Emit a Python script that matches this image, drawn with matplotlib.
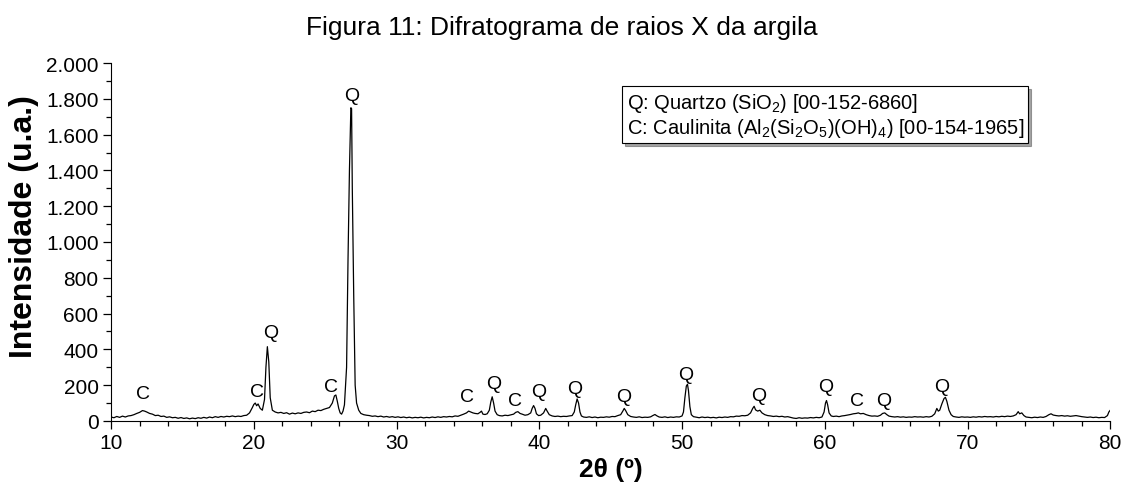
import matplotlib
matplotlib.use("Agg")
import matplotlib.pyplot as plt
from matplotlib.ticker import MultipleLocator, FuncFormatter
from matplotlib.lines import Line2D

plt.rcParams["font.family"] = ["Liberation Sans", "DejaVu Sans"]
plt.rcParams["mathtext.default"] = "regular"

# 2theta (deg) and intensity (u.a.)
two_theta = [
    10.0, 10.2, 10.4, 10.6, 10.8, 11.0, 11.2, 11.4, 11.6, 11.8, 12.0, 12.2, 12.35, 12.5, 12.7, 12.9,
    13.1, 13.3, 13.5, 13.7, 13.9, 14.1, 14.3, 14.5, 14.7, 14.9, 15.1, 15.3, 15.5, 15.7, 15.9, 16.1,
    16.3, 16.5, 16.7, 16.9, 17.1, 17.3, 17.5, 17.7, 17.9, 18.1, 18.3, 18.5, 18.7, 18.9, 19.1, 19.3,
    19.5, 19.7, 19.9, 20.0, 20.1, 20.2, 20.3, 20.45, 20.6, 20.75, 20.85, 20.95, 21.05, 21.15, 21.3, 21.5,
    21.7, 21.9, 22.1, 22.3, 22.5, 22.7, 22.9, 23.1, 23.3, 23.5, 23.7, 23.9, 24.1, 24.3, 24.5, 24.7,
    24.9, 25.1, 25.3, 25.5, 25.65, 25.75, 25.85, 25.95, 26.05, 26.15, 26.25, 26.35, 26.5, 26.6, 26.7, 26.8,
    26.85, 26.9, 27.0, 27.1, 27.2, 27.35, 27.5, 27.7, 27.9, 28.1, 28.3, 28.5, 28.7, 28.9, 29.1, 29.3,
    29.5, 29.7, 29.9, 30.1, 30.3, 30.5, 30.7, 30.9, 31.1, 31.3, 31.5, 31.7, 31.9, 32.1, 32.3, 32.5,
    32.7, 32.9, 33.1, 33.3, 33.5, 33.7, 33.9, 34.1, 34.3, 34.5, 34.7, 34.9, 35.05, 35.2, 35.35, 35.5,
    35.7, 35.85, 35.95, 36.05, 36.2, 36.35, 36.5, 36.6, 36.7, 36.8, 36.9, 37.05, 37.2, 37.4, 37.6, 37.8,
    38.0, 38.2, 38.35, 38.5, 38.65, 38.8, 39.0, 39.2, 39.4, 39.5, 39.6, 39.7, 39.8, 39.95, 40.1, 40.3,
    40.45, 40.55, 40.7, 40.9, 41.1, 41.3, 41.5, 41.7, 41.9, 42.1, 42.3, 42.45, 42.55, 42.65, 42.75, 42.85,
    42.95, 43.1, 43.3, 43.5, 43.7, 43.9, 44.1, 44.3, 44.5, 44.7, 44.9, 45.1, 45.3, 45.5, 45.7, 45.85,
    45.95, 46.05, 46.2, 46.4, 46.6, 46.8, 47.0, 47.2, 47.4, 47.6, 47.8, 47.95, 48.1, 48.25, 48.4, 48.6,
    48.8, 49.0, 49.2, 49.4, 49.6, 49.8, 50.0, 50.1, 50.2, 50.3, 50.38, 50.45, 50.55, 50.65, 50.8, 51.0,
    51.2, 51.4, 51.6, 51.8, 52.0, 52.2, 52.4, 52.6, 52.8, 53.0, 53.2, 53.4, 53.6, 53.8, 54.0, 54.2,
    54.4, 54.6, 54.8, 54.95, 55.05, 55.15, 55.3, 55.45, 55.6, 55.8, 56.0, 56.2, 56.4, 56.6, 56.8, 57.0,
    57.2, 57.4, 57.6, 57.8, 58.0, 58.2, 58.4, 58.6, 58.8, 59.0, 59.2, 59.4, 59.6, 59.8, 59.95, 60.05,
    60.12, 60.2, 60.3, 60.45, 60.6, 60.8, 61.0, 61.2, 61.4, 61.6, 61.8, 62.0, 62.2, 62.35, 62.5, 62.7,
    62.9, 63.1, 63.3, 63.5, 63.7, 63.9, 64.05, 64.2, 64.35, 64.5, 64.7, 64.9, 65.1, 65.3, 65.5, 65.7,
    65.9, 66.1, 66.3, 66.5, 66.7, 66.9, 67.1, 67.3, 67.5, 67.7, 67.85, 67.95, 68.05, 68.2, 68.35, 68.45,
    68.55, 68.7, 68.85, 69.0, 69.2, 69.4, 69.6, 69.8, 70.0, 70.2, 70.4, 70.6, 70.8, 71.0, 71.2, 71.4,
    71.6, 71.8, 72.0, 72.2, 72.4, 72.6, 72.8, 73.0, 73.2, 73.4, 73.55, 73.65, 73.8, 73.95, 74.1, 74.3,
    74.5, 74.7, 74.9, 75.1, 75.3, 75.5, 75.7, 75.85, 76.0, 76.2, 76.4, 76.6, 76.8, 77.0, 77.2, 77.4,
    77.6, 77.8, 78.0, 78.2, 78.4, 78.6, 78.8, 79.0, 79.2, 79.4, 79.6, 79.8, 79.9, 80.0,
]
intensity = [
    22, 18, 25, 20, 27, 22, 28, 30, 35, 42, 48, 58, 55, 50, 42, 38,
    30, 32, 25, 27, 20, 23, 18, 20, 15, 19, 14, 17, 12, 16, 13, 18,
    15, 20, 16, 22, 18, 24, 20, 25, 22, 26, 24, 28, 24, 27, 25, 30,
    32, 45, 75, 92, 100, 85, 95, 70, 60, 120, 300, 415, 330, 130, 60, 50,
    45, 48, 42, 46, 38, 44, 40, 45, 42, 48, 50, 46, 55, 52, 60, 58,
    65, 70, 75, 100, 140, 145, 110, 70, 45, 38, 55, 90, 300, 900, 1400, 1750,
    1745, 1300, 700, 200, 100, 60, 42, 35, 32, 30, 26, 28, 24, 27, 22, 25,
    21, 24, 20, 23, 19, 22, 18, 21, 17, 20, 18, 21, 17, 20, 18, 22,
    19, 23, 20, 24, 22, 25, 23, 28, 26, 32, 38, 45, 55, 50, 45, 42,
    40, 48, 55, 38, 36, 40, 60, 105, 135, 100, 55, 35, 30, 28, 32, 30,
    34, 38, 48, 52, 42, 38, 32, 35, 45, 70, 86, 70, 40, 30, 32, 45,
    70, 55, 35, 28, 25, 27, 24, 26, 25, 28, 30, 50, 90, 123, 100, 50,
    28, 22, 20, 23, 19, 22, 18, 21, 20, 23, 21, 25, 24, 30, 35, 55,
    70, 58, 35, 25, 22, 20, 23, 19, 21, 20, 23, 30, 36, 28, 22, 20,
    23, 19, 22, 20, 23, 22, 28, 50, 130, 195, 205, 170, 80, 35, 24, 21,
    18, 22, 19, 21, 18, 20, 17, 21, 19, 22, 20, 24, 23, 27, 26, 30,
    29, 32, 45, 70, 82, 62, 55, 60, 45, 35, 30, 28, 25, 27, 24, 26,
    22, 24, 20, 16, 14, 18, 15, 17, 16, 19, 17, 20, 18, 22, 50, 100,
    114, 90, 45, 28, 25, 27, 24, 28, 30, 33, 36, 40, 42, 45, 40, 42,
    35, 30, 27, 28, 26, 32, 42, 45, 35, 27, 24, 22, 24, 21, 23, 20,
    22, 21, 24, 22, 23, 21, 24, 22, 26, 40, 70, 55, 60, 95, 125, 132,
    110, 60, 35, 25, 22, 20, 23, 21, 22, 20, 23, 21, 24, 22, 25, 23,
    24, 22, 25, 23, 26, 24, 27, 25, 28, 35, 52, 40, 45, 30, 22, 20,
    18, 21, 19, 22, 20, 25, 35, 40, 33, 30, 28, 30, 27, 29, 26, 28,
    30, 27, 24, 22, 20, 22, 19, 21, 18, 20, 19, 30, 50, 60,
]

# phase labels above the peaks: letter, 2theta, height
peak_letters = ["C", "C", "Q", "C", "Q", "C", "Q", "C", "Q", "Q", "Q", "Q", "Q", "Q", "C", "Q", "Q"]
peak_theta = [12.24, 20.23, 21.21, 25.42, 26.89, 34.95, 36.77, 38.31, 39.99, 42.45, 45.88, 50.29,
              55.34, 60.04, 62.28, 64.1, 68.16]
peak_height = [151, 162, 497, 190, 1821, 134, 212, 117, 162, 184, 134, 257, 145, 190, 117, 117, 190]

legend_lines = [
    "Q: Quartzo (SiO$_2$) [00-152-6860]",
    "C: Caulinita (Al$_2$(Si$_2$O$_5$)(OH)$_4$) [00-154-1965]",
]

fig = plt.figure(figsize=(11.24, 4.85), dpi=100)
ax = fig.add_axes([0.0988, 0.130, 0.889, 0.738])

ax.plot(two_theta, intensity, color="black", linewidth=0.9)

for letter, t, h in zip(peak_letters, peak_theta, peak_height):
    ax.text(t, h, letter, ha="center", va="center", fontsize=14)

ax.set_xlim(10, 80)
ax.set_ylim(0, 2000)
ax.xaxis.set_major_locator(MultipleLocator(10))
ax.xaxis.set_minor_locator(MultipleLocator(2))
ax.yaxis.set_major_locator(MultipleLocator(200))
ax.yaxis.set_minor_locator(MultipleLocator(100))
ax.yaxis.set_major_formatter(FuncFormatter(lambda v, p: f"{v:,.0f}".replace(",", ".")))
ax.tick_params(which="major", length=6, width=0.9, labelsize=15, direction="out", pad=3)
ax.tick_params(which="minor", length=3.5, width=0.9, direction="out")
ax.spines["top"].set_visible(False)
ax.spines["right"].set_visible(False)

ax.set_xlabel("2θ (º)", fontsize=19, fontweight="bold", labelpad=3)
ax.set_ylabel("Intensidade (u.a.)", fontsize=23, fontweight="bold")
ax.yaxis.set_label_coords(-0.072, 0.545)

handles = [Line2D([], [], linestyle="none") for _ in legend_lines]
leg = ax.legend(handles, legend_lines, loc="upper right", bbox_to_anchor=(0.918, 0.935),
                handlelength=0, handletextpad=0, fontsize=14.5, frameon=True, fancybox=False,
                shadow=True, borderpad=0.22, labelspacing=0.1, borderaxespad=0, framealpha=1)
leg.get_frame().set_edgecolor("black")
leg.get_frame().set_linewidth(0.8)

fig.text(0.5, 0.942, "Figura 11: Difratograma de raios X da argila", fontsize=19,
         ha="center", va="center")

fig.savefig("out.png", dpi=100)
